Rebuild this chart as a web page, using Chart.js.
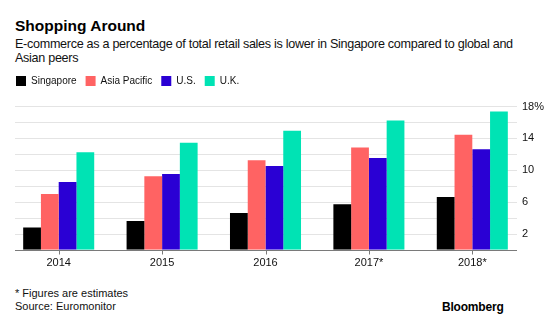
<!DOCTYPE html>
<html>
<head>
<meta charset="utf-8">
<script src="https://cdn.jsdelivr.net/npm/chart.js@4"></script>
<style>
  html,body{margin:0;padding:0;background:#fff;width:558px;height:323px;overflow:hidden;font-family:"Liberation Sans",Arial,sans-serif;}
  #wrap{position:relative;width:558px;height:323px;}
  .t{position:absolute;white-space:nowrap;color:#000;}
  #title{left:15px;top:17px;font-size:15.5px;font-weight:bold;}
  #sub{left:15px;top:38px;font-size:12.6px;line-height:13.5px;color:#111;letter-spacing:-0.3px;}
  #note{left:15px;top:287px;font-size:11px;line-height:13px;color:#111;}
  #bb{left:442px;top:300px;font-size:12px;font-weight:bold;letter-spacing:-0.2px;}
  #cv{position:absolute;left:0;top:67px;}
</style>
</head>
<body>
<div id="wrap">
  <div class="t" id="title">Shopping Around</div>
  <div class="t" id="sub">E-commerce as a percentage of total retail sales is lower in Singapore compared to global and<br>Asian peers</div>
  <canvas id="cv" width="558" height="210"></canvas>
  <div class="t" id="note">* Figures are estimates<br>Source: Euromonitor</div>
  <div class="t" id="bb">Bloomberg</div>
</div>
<script>
const years = ["2014", "2015", "2016", "2017*", "2018*"];
const singapore = [2.8, 3.6, 4.6, 5.7, 6.6];
const asiaPacific = [7.0, 9.2, 11.2, 12.8, 14.4];
const us = [8.5, 9.5, 10.5, 11.5, 12.6];
const uk = [12.2, 13.4, 14.9, 16.2, 17.3];
const yTickValues = [2, 6, 10, 14, 18];
const yTickLabels = ["2", "6", "10", "14", "18%"];

const FONT = "'Liberation Sans', Arial, sans-serif";

const legendMargin = {
  id: 'legendMargin',
  beforeInit(chart) {
    const orig = chart.legend.fit;
    chart.legend.fit = function () {
      orig.bind(chart.legend)();
      this.height += 10;
    };
  }
};

const gridPlugin = {
  id: 'customGrid',
  beforeDatasetsDraw(chart) {
    const ctx = chart.ctx, y = chart.scales.y;
    const x0 = 15, x1 = 517;
    ctx.save();
    ctx.lineWidth = 1;
    ctx.strokeStyle = '#e4e4e4';
    for (let v = 2; v <= 18; v += 2) {
      const py = Math.round(y.getPixelForValue(v)) + 0.5;
      ctx.beginPath(); ctx.moveTo(x0, py); ctx.lineTo(x1, py); ctx.stroke();
    }
    ctx.fillStyle = '#111';
    ctx.font = "11px " + FONT;
    ctx.textAlign = 'left';
    ctx.textBaseline = 'middle';
    yTickValues.forEach((v, i) => {
      ctx.fillText(yTickLabels[i], 522, y.getPixelForValue(v) + 0.5);
    });
    ctx.restore();
  },
  afterDatasetsDraw(chart) {
    const ctx = chart.ctx, y = chart.scales.y, x = chart.scales.x;
    const x0 = 15, x1 = 517;
    const py = Math.round(y.getPixelForValue(0)) + 0.5;
    ctx.save();
    ctx.lineWidth = 1;
    ctx.strokeStyle = '#7a7a7a';
    ctx.beginPath(); ctx.moveTo(x0, py); ctx.lineTo(x1, py); ctx.stroke();
    for (let i = 0; i < years.length; i++) {
      const px = Math.round(x.getPixelForValue(i)) + 0.5;
      ctx.beginPath(); ctx.moveTo(px, py); ctx.lineTo(px, py + 4); ctx.stroke();
    }
    ctx.restore();
  }
};

new Chart(document.getElementById('cv'), {
  type: 'bar',
  data: {
    labels: years,
    datasets: [
      {label: 'Singapore', data: singapore, backgroundColor: '#000000'},
      {label: 'Asia Pacific', data: asiaPacific, backgroundColor: '#ff6363'},
      {label: 'U.S.', data: us, backgroundColor: '#2a00d4'},
      {label: 'U.K.', data: uk, backgroundColor: '#00e3b4'}
    ]
  },
  options: {
    responsive: false,
    animation: false,
    devicePixelRatio: 1,
    layout: {padding: {left: 7, right: 0, top: 0, bottom: 0}},
    datasets: {bar: {barPercentage: 1.0, categoryPercentage: 0.687, borderWidth: 0}},
    plugins: {
      tooltip: {enabled: false},
      legend: {
        display: true,
        position: 'top',
        align: 'start',
        labels: {
          boxWidth: 10, boxHeight: 10, padding: 9,
          color: '#111',
          font: {family: FONT, size: 10}
        }
      }
    },
    scales: {
      x: {
        offset: true,
        grid: {display: false, drawTicks: false},
        border: {display: false},
        ticks: {color: '#111', font: {family: FONT, size: 11}, padding: 7, maxRotation: 0, autoSkip: false}
      },
      y: {
        position: 'right',
        min: 0, max: 18,
        grid: {display: false, drawTicks: false},
        border: {display: false},
        afterFit(scale) { scale.width = 34; },
        ticks: {display: false, stepSize: 2}
      }
    }
  },
  plugins: [legendMargin, gridPlugin]
});
</script>
</body>
</html>
